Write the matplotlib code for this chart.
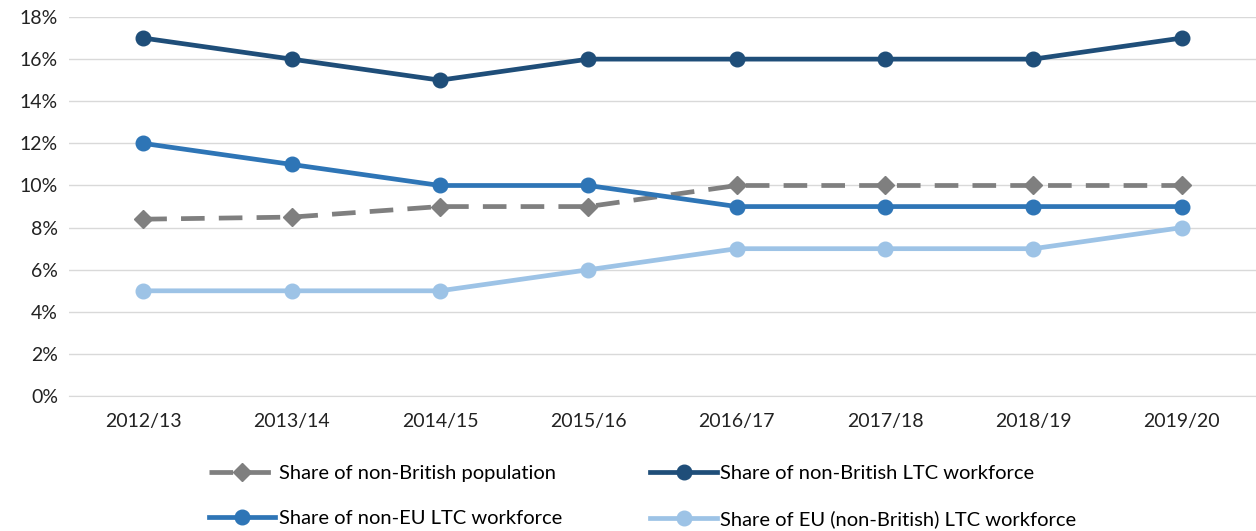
import matplotlib
matplotlib.use("Agg")
import matplotlib.pyplot as plt
from matplotlib.ticker import PercentFormatter

plt.rcParams["font.family"] = ["Lato", "DejaVu Sans"]

years = ["2012/13", "2013/14", "2014/15", "2015/16", "2016/17", "2017/18", "2018/19", "2019/20"]
pop_share = [8.4, 8.5, 9, 9, 10, 10, 10, 10]
non_british_ltc = [17, 16, 15, 16, 16, 16, 16, 17]
non_eu_ltc = [12, 11, 10, 10, 9, 9, 9, 9]
eu_ltc = [5, 5, 5, 6, 7, 7, 7, 8]

fig = plt.figure(figsize=(12.56, 5.31), dpi=100)
ax = fig.add_axes([0.055, 0.254, 0.945, 0.714])

x = range(len(years))
h_pop, = ax.plot(x, pop_share, color="#7f7f7f", lw=3.4, ls=(0, (5, 3)), marker="D", ms=9.5,
                 label="Share of non-British population", zorder=3)
h_nb, = ax.plot(x, non_british_ltc, color="#1f4e79", lw=3.4, marker="o", ms=10.5,
                label="Share of non-British LTC workforce", zorder=3)
h_neu, = ax.plot(x, non_eu_ltc, color="#2e75b6", lw=3.4, marker="o", ms=10.5,
                 label="Share of non-EU LTC workforce", zorder=3)
h_eu, = ax.plot(x, eu_ltc, color="#9dc3e6", lw=3.4, marker="o", ms=10.5,
                label="Share of EU (non-British) LTC workforce", zorder=3)

ax.set_xlim(-0.5, len(years) - 0.5)
ax.set_ylim(0, 18)
ax.set_yticks(range(0, 19, 2))
ax.yaxis.set_major_formatter(PercentFormatter(decimals=0))
ax.set_xticks(list(x))
ax.set_xticklabels(years)
ax.tick_params(length=0, labelsize=14, colors="#222222")
ax.tick_params(axis="y", pad=8)
ax.tick_params(axis="x", pad=12)
ax.grid(axis="y", color="#d9d9d9", lw=1)
for s in ["top", "right", "left"]:
    ax.spines[s].set_visible(False)
ax.spines["bottom"].set_color("#d9d9d9")

# row-major legend: reorder because matplotlib fills columns first
handles = [h_pop, h_neu, h_nb, h_eu]
fig.legend(handles=handles, labels=[h.get_label() for h in handles],
           loc="lower left", bbox_to_anchor=(0.152, -0.029), ncol=2, frameon=False,
           fontsize=14.5, handlelength=3.3, columnspacing=4.4, labelspacing=1.4,
           handletextpad=0.15)

fig.savefig("out.png", dpi=100)
